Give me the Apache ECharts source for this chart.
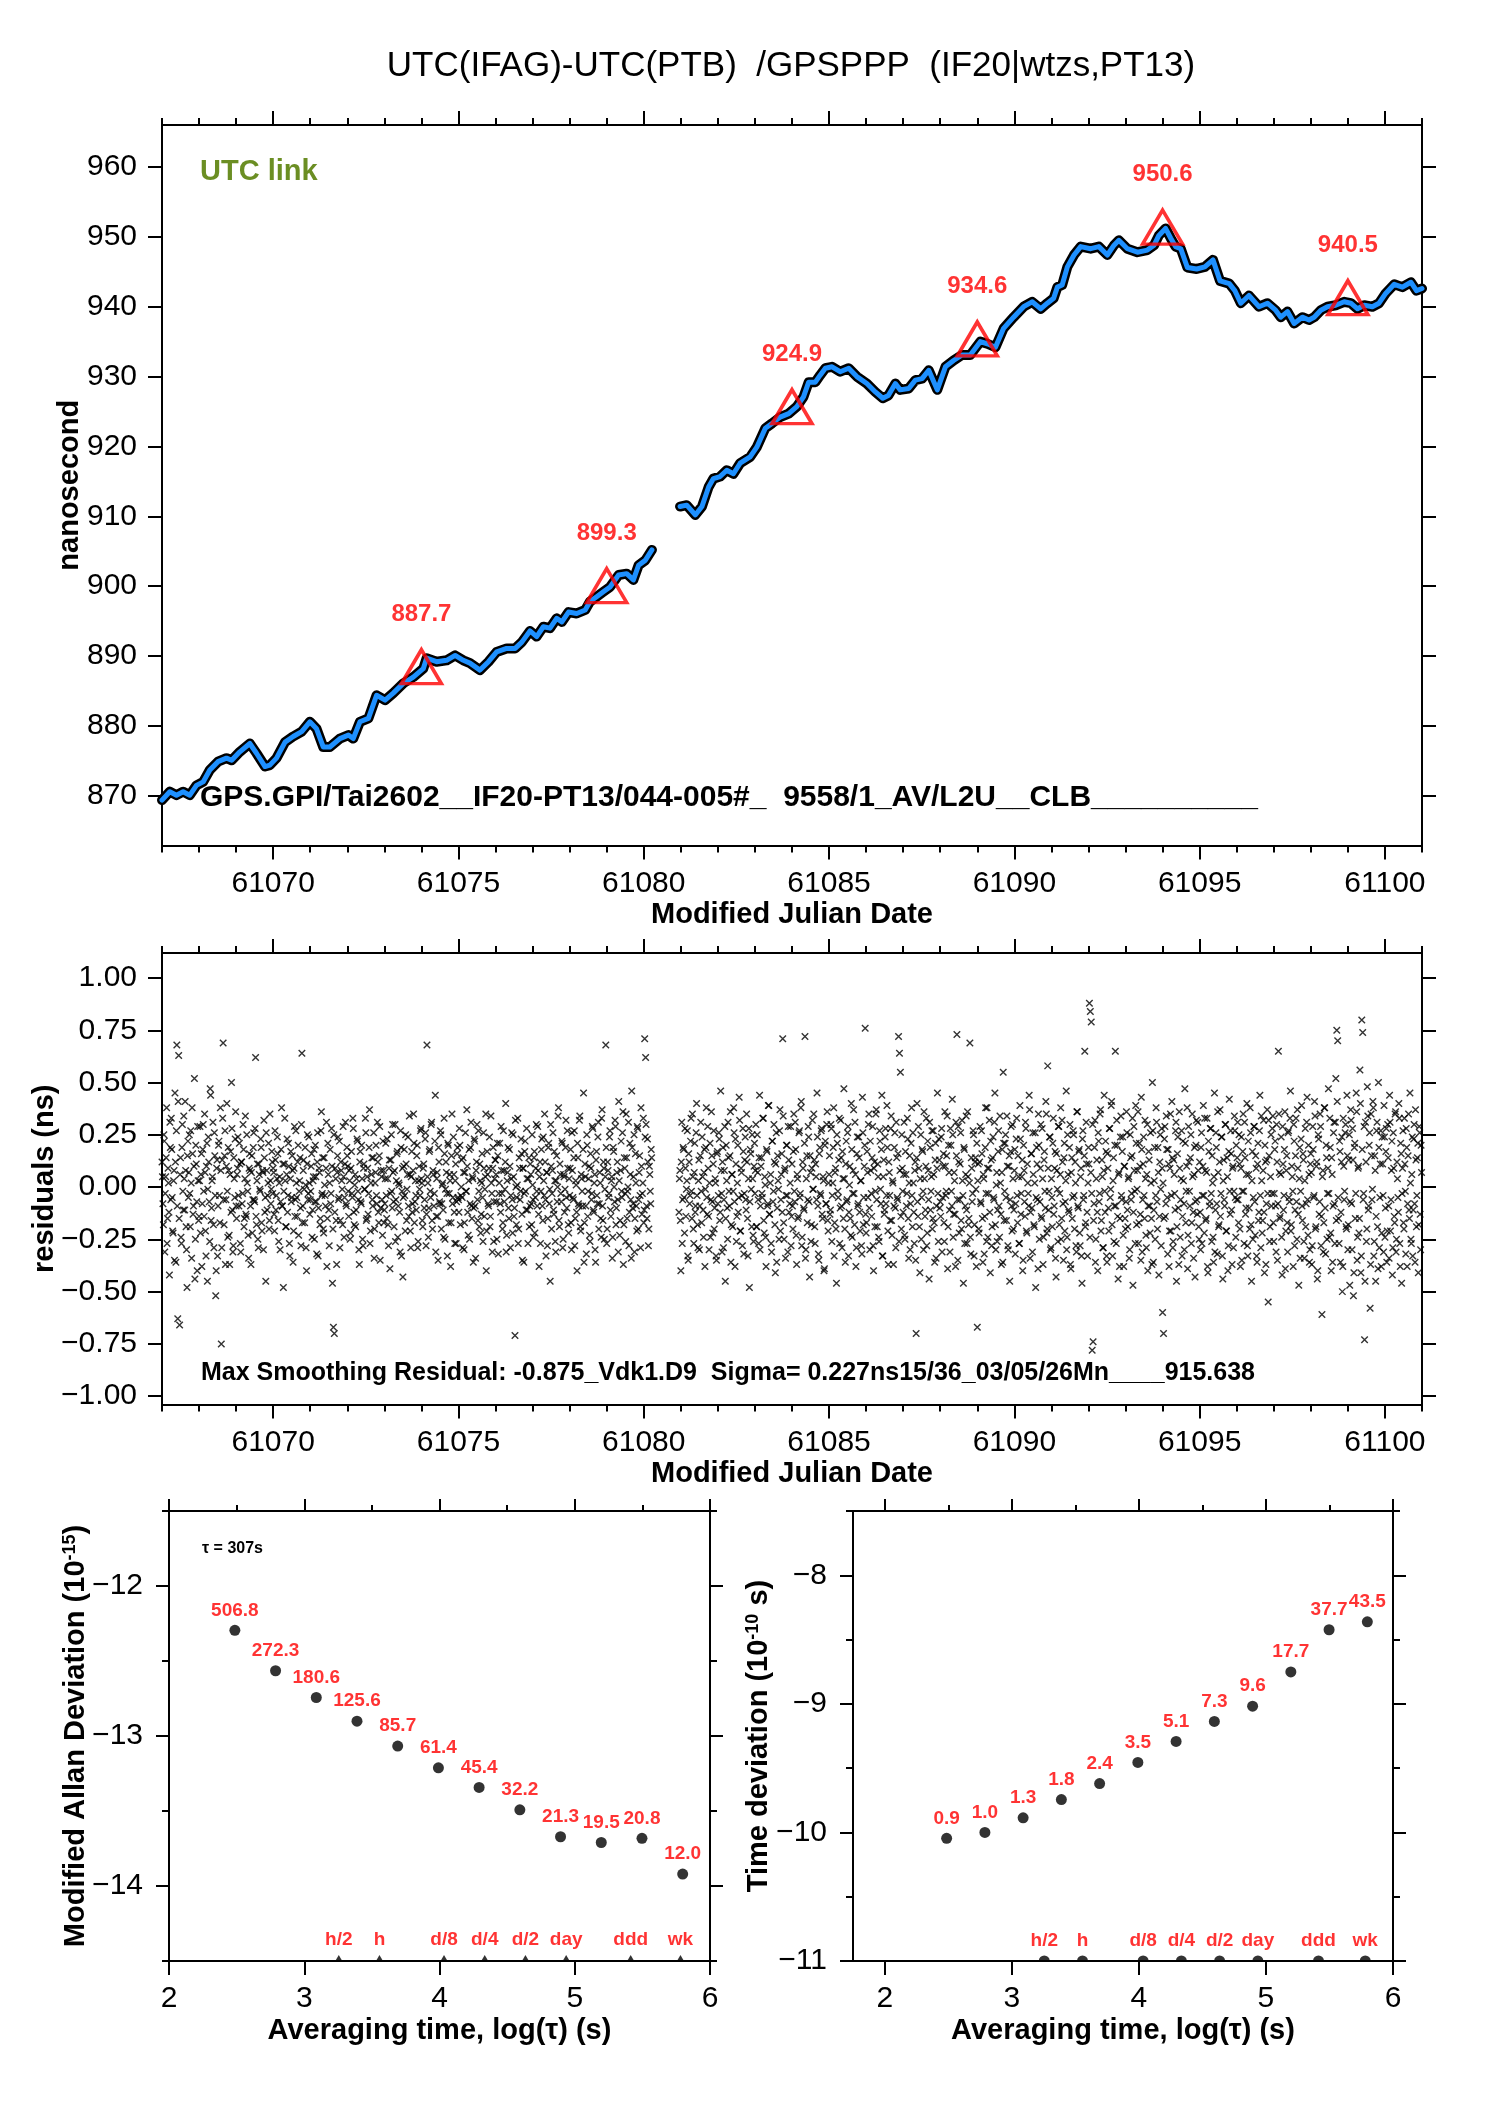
<!DOCTYPE html>
<html>
<head>
<meta charset="utf-8">
<script src="https://cdn.jsdelivr.net/npm/echarts@6/dist/echarts.min.js"></script>
<style>html,body{margin:0;padding:0;background:#fff}#c{width:1488px;height:2105px}</style>
</head>
<body>
<div id="c"></div>
<script>
// ---------------- DATA ----------------
// smoothed UTC link curve (MJD, ns), two segments
const smoothA = [
[61067.00,869.4],[61067.21,870.6],[61067.39,870.1],[61067.57,870.6],[61067.75,870.1],[61067.93,871.5],
[61068.11,872.0],[61068.29,873.7],[61068.51,874.9],[61068.74,875.4],[61068.88,875.1],[61069.10,876.3],
[61069.37,877.5],[61069.55,876.1],[61069.78,874.2],[61069.91,874.4],[61070.09,875.4],[61070.32,877.7],
[61070.54,878.5],[61070.77,879.2],[61070.99,880.6],[61071.17,879.6],[61071.35,877.0],[61071.53,877.0],
[61071.80,878.2],[61072.03,878.7],[61072.16,878.2],[61072.34,880.6],[61072.57,881.1],[61072.79,884.4],
[61073.02,883.7],[61073.24,884.7],[61073.51,886.1],[61073.78,887.0],[61074.05,888.2],[61074.14,889.7],
[61074.41,889.2],[61074.68,889.4],[61074.91,890.1],[61075.13,889.4],[61075.31,889.0],[61075.58,888.0],
[61075.81,889.2],[61076.03,890.6],[61076.30,891.1],[61076.53,891.1],[61076.71,892.0],[61076.93,893.6],
[61077.11,892.8],[61077.29,894.2],[61077.47,894.0],[61077.65,895.4],[61077.79,894.9],[61077.97,896.3],
[61078.19,896.1],[61078.42,896.6],[61078.55,897.8],[61078.73,898.5],[61078.91,899.2],[61079.09,899.9],
[61079.32,901.6],[61079.54,901.8],[61079.72,900.9],[61079.86,903.0],[61080.04,903.7],[61080.22,905.2]
];
const smoothB = [
[61080.98,911.4],[61081.16,911.6],[61081.39,910.2],[61081.57,911.4],[61081.75,914.2],[61081.88,915.4],
[61082.06,915.7],[61082.24,916.6],[61082.42,916.1],[61082.60,917.6],[61082.87,918.5],[61083.05,919.9],
[61083.28,922.6],[61083.46,923.3],[61083.68,924.2],[61083.91,924.7],[61084.13,925.7],[61084.31,927.1],
[61084.45,929.2],[61084.63,929.2],[61084.76,930.2],[61084.90,931.2],[61085.08,931.4],[61085.30,930.7],
[61085.53,931.2],[61085.75,930.0],[61086.02,929.0],[61086.25,927.8],[61086.45,926.9],[61086.60,927.3],
[61086.79,929.0],[61086.92,928.1],[61087.15,928.3],[61087.33,929.5],[61087.51,929.7],[61087.69,930.9],
[61087.92,928.1],[61088.14,931.4],[61088.36,932.3],[61088.59,933.1],[61088.81,933.1],[61089.08,935.0],
[61089.27,934.7],[61089.49,934.2],[61089.71,936.9],[61089.98,938.5],[61090.25,940.0],[61090.48,940.7],
[61090.71,939.7],[61090.89,940.5],[61091.06,941.2],[61091.16,942.8],[61091.29,943.1],[61091.43,945.7],
[61091.61,947.4],[61091.79,948.6],[61092.06,948.3],[61092.28,948.6],[61092.51,947.4],[61092.69,948.8],
[61092.82,949.5],[61093.05,948.3],[61093.32,947.8],[61093.59,948.1],[61093.77,948.8],[61093.90,950.2],
[61094.08,951.2],[61094.22,949.8],[61094.35,948.6],[61094.49,948.3],[61094.67,945.6],[61094.92,945.4],
[61095.14,945.7],[61095.36,946.7],[61095.55,943.7],[61095.80,943.3],[61095.95,942.3],[61096.11,940.5],
[61096.33,941.6],[61096.60,940.0],[61096.83,940.5],[61097.05,939.5],[61097.19,938.5],[61097.37,939.3],
[61097.55,937.6],[61097.77,938.5],[61097.95,938.1],[61098.09,938.5],[61098.27,939.5],[61098.45,940.0],
[61098.67,940.2],[61098.90,940.7],[61099.08,940.5],[61099.26,939.7],[61099.44,940.2],[61099.66,940.0],
[61099.84,940.5],[61100.02,941.9],[61100.25,943.2],[61100.47,942.8],[61100.70,943.5],[61100.85,942.3],
[61101.00,942.6]
];
const peakMjd = [61074, 61079, 61084, 61089, 61094, 61099];
const peakNs  = [887.7, 899.3, 924.9, 934.6, 950.6, 940.5];

// residuals (hundredths of ns), sampled every resStep day from each start
const resStep = 0.025;
const resStartA = 61067.0;
const resA = [
12,-8,25,-31,5,38,-15,2,-42,19,33,-5,-22,8,45,-36,68,-63,63,-66,14,-27,30,-11,4,41,-19,-48,22,7,-3,27,-34,16,-9,52,-25,11,-40,3,
-14,29,6,-38,18,-2,35,-21,10,-45,24,-7,47,-16,3,31,-29,15,-52,9,-33,20,-4,38,-75,13,69,-18,27,-6,40,-24,8,-37,17,50,-11,-28,4,23,
-9,6,24,-9,11,-31,12,-3,18,-15,34,-14,2,-23,9,8,-37,15,-6,26,-7,62,-18,11,-29,6,-2,19,-21,7,32,-12,-45,8,-4,21,-16,3,-1,12,
9,-13,27,-11,4,16,-26,5,-7,38,-9,-48,11,3,-19,23,-4,10,-33,17,-5,8,-21,29,-6,2,-14,20,-2,14,-28,64,-9,13,-17,1,-40,25,-3,2,
-6,10,-24,3,18,-7,5,-32,26,-10,7,-15,36,-3,-20,14,-4,9,-38,21,-11,2,-8,28,-46,-67,-70,9,-16,7,24,-5,-29,12,3,-18,5,-5,31,-9,
15,-2,8,-25,9,-3,33,-12,1,-19,4,22,-6,-37,17,-8,4,-28,11,-1,26,-15,9,-3,37,-21,6,-6,14,-34,2,20,-8,12,-17,29,-10,5,-23,8,
-11,4,-4,23,-18,9,-39,13,-2,30,-7,8,-26,3,17,-9,1,-31,19,-2,-43,10,-4,25,-16,6,-9,34,-21,5,-12,8,21,-7,-4,15,-29,3,-1,27,
4,-16,9,-10,23,-28,68,2,-10,18,-5,31,-20,6,-3,44,-14,7,-35,12,-8,25,-8,2,-24,16,-1,7,-33,20,-3,3,-17,35,-5,6,-27,11,-7,19,
-6,28,-18,0,-5,14,-30,7,-2,37,-12,3,-25,19,-9,5,-36,23,-9,8,30,-16,-2,11,-22,2,-5,26,-14,5,-40,17,-8,9,-19,34,-3,9,-26,4,
13,-7,21,-32,2,-8,29,-3,-17,8,-1,40,-23,7,-10,18,-29,4,-6,25,-14,-71,0,-5,33,-20,9,-2,16,-35,9,-3,22,-11,4,-27,14,-9,6,-18,
1,-24,17,-5,30,-9,8,-38,12,-2,23,-16,3,35,-6,7,-28,19,-8,-45,10,-3,26,-13,3,-31,15,0,38,-19,6,-7,21,-25,5,-1,32,-10,9,-22,
-4,18,-30,8,-6,27,-15,1,-40,14,-9,34,-21,4,-9,45,-17,5,-32,20,-2,10,-26,9,-3,28,-12,6,-36,17,-8,31,-8,2,-24,37,-16,9,-1,68,
-27,12,-5,24,-11,3,-34,19,0,32,-18,7,-6,41,-23,8,-2,26,-37,14,-3,35,-15,0,-28,21,-6,46,-10,5,-31,16,-9,29,-20,7,-4,38,-13,2,
-17,71,62,-9,23,-28,10,-2,18
];
const resStartA2 = 61067.0125;
const resA2 = [
5,-18,22,-3,14,-27,9,-12,31,-6,18,-21,3,-35,12,27,-9,41,-15,6,-24,19,-2,34,-11,8,-30,15,-5,25,-19,2,38,-13,10,-44,20,-7,29,-16,
3,-22,16,-8,30,-14,7,-33,21,-1,12,-26,44,-10,5,-18,26,-4,-40,13,-9,22,-17,8,-29,33,-6,15,-37,10,-2,19,-23,6,-12,28,-31,14,-5,36,
-15,9,-4,21,-27,12,-8,30,-19,4,-13,25,-2,-34,16,-9,7,-22,19,-6,28,-14,3,-25,11,-1,23,-17,8,-30,14,-5,26,-11,2,-20,35,-8,17,-3,
7,-21,13,-4,24,-16,2,-30,18,-9,11,-2,33,-19,6,-12,21,-27,4,-7,15,-36,9,-14,27,-5,12,-23,3,-10,30,-17,8,-1,19,-29,11,-6,24,-13,
-2,16,-11,5,-25,20,-7,12,-33,9,-18,27,-4,14,-22,1,-9,31,-15,6,-28,18,-3,10,-20,25,-12,4,-37,15,-6,22,-16,8,-1,29,-24,11,-8,19,
10,-14,3,-22,17,-5,28,-18,6,-11,23,-2,-30,12,-7,20,-25,9,-1,33,-16,5,-13,19,-27,2,14,-9,26,-20,7,-4,31,-12,15,-35,8,-6,22,-17,
-8,21,-15,4,-28,13,-3,25,-10,7,-19,30,-6,16,-24,2,-12,27,-33,9,-5,18,-21,11,-1,24,-14,6,-29,17,-8,35,-17,3,-11,20,-26,10,-4,28,
2,-19,11,-6,26,-13,5,-24,17,-2,30,-16,8,-9,22,-31,4,-14,19,-7,27,-20,1,-11,33,-25,12,-3,21,-17,6,-38,15,-8,24,-12,3,-27,16,-5,
-12,20,-4,13,-29,7,-17,26,-2,10,-23,18,-8,31,-15,4,-10,22,-34,12,-6,27,-19,3,-13,16,-26,9,-1,35,-21,6,-9,24,-14,2,-31,19,-7,13,
6,-25,15,-3,21,-12,8,-20,27,-7,12,-31,3,19,-15,10,-4,26,-22,5,-10,32,-18,1,-27,14,-6,23,-13,9,-36,17,-2,28,-11,4,-19,11,-8,25,
-6,14,-22,9,-2,29,-13,5,-27,18,-9,24,-4,12,-33,7,-15,21,-1,30,-20,8,-11,17,-26,3,-7,34,-16,11,-3,22,-29,6,-12,19,-5,27,-18,4,
9,-17,26,-5,14,-28,3,-12,21,-8,32,-19,6,-2,18,-36,11,-9,25,-14,4,-23,16,-6,29,-11,2,-30,13,-4,24,-20,7,-15,33,-9,12,-25,5,19,
-20,8,-3,27,-14,5,-24,17,-7,29,-10,12,-31,3,-16,22,-5,36,-18,9,-26,14,-2,31,-12,6,-34,19,-8,25,-15,2,-21,28,-6,15,-29,10,-3,33,
-11,24,30,-15,12,-20,6,-8,14
];
const resStartB = 61080.95;
const resB = [
-12,8,
-40,31,-6,18,-22,9,-1,27,-35,12,-4,33,-15,5,-27,21,-9,40,-18,3,-30,15,-2,24,-11,7,-38,19,-5,29,-14,2,-24,36,-7,11,-20,4,-33,16,
-8,26,-16,46,-3,12,-29,8,-45,20,-10,31,-2,15,-36,6,-19,38,-7,23,-26,2,-12,43,-21,9,-4,28,-32,13,-6,35,-15,4,-48,18,-1,25,-23,10,
-3,30,-19,7,-27,44,-9,14,-5,33,-22,1,-38,17,-8,39,-13,6,-31,22,-2,12,-41,26,-10,3,-25,37,-6,16,71,-17,8,-34,20,-4,29,-12,2,-28,
11,-20,35,-7,18,-37,4,-14,27,-3,41,-24,9,-11,72,-30,15,-6,24,-43,7,-18,32,-1,13,-27,5,45,-9,-35,19,-4,28,-15,3,-39,22,-8,36,-21,
6,-13,30,-26,2,38,-17,9,-46,21,-5,33,-10,14,-29,4,47,-20,11,-7,26,-33,1,-15,40,-24,8,-3,31,-38,16,-9,24,-12,3,-28,43,-18,10,76,
-22,17,-5,35,-30,8,-14,29,-40,12,-2,37,-19,5,-26,22,-8,44,-33,13,-11,28,-4,19,-37,7,-16,34,-23,2,-9,26,-29,14,-6,72,64,55,-20,9,
-12,31,-25,6,-3,23,-34,15,-8,38,-19,2,-27,12,-70,40,-14,9,-41,25,-5,17,-30,4,-11,33,-22,8,-44,19,-2,27,-15,6,-36,21,-9,45,-26,13,
-7,24,-31,10,-17,36,-4,15,-39,20,-11,28,-2,42,-24,7,-13,31,73,-35,12,-6,26,-20,3,-46,18,-9,34,-27,5,-15,69,-32,9,-3,25,-18,14,-38,
-67,11,-22,29,-8,16,-36,4,-14,38,-26,9,-3,32,-41,13,-19,24,-6,45,-30,7,-11,27,-24,2,-37,18,55,-16,21,-5,34,-28,10,-45,17,-9,30,-20,
8,-32,23,-4,15,-27,39,-13,5,-40,20,-7,31,-21,11,-3,44,-34,16,-10,26,-18,2,-48,19,-6,35,-25,9,-14,28,-37,13,-2,41,-22,58,-11,24,-30,
4,-19,33,-9,17,-43,8,-26,29,-3,38,-15,12,-35,21,-7,46,-24,6,-12,30,-39,14,-5,25,-20,2,-31,36,-10,18,-28,9,-46,27,-4,65,-17,11,-33,
19,88,84,79,-78,-74,-8,32,-25,13,-40,22,-3,37,-16,5,-29,44,-12,17,-36,9,-21,28,-1,41,-33,14,-9,65,-27,20,-44,7,-15,34,-6,24,-38,10,
-20,36,-11,4,-34,25,-6,15,-47,29,-2,39,-18,8,-27,21,-13,43,-31,11,-4,32,-23,6,-40,17,-9,26,-15,50,-36,3,-25,38,-7,19,-42,12,-1,28,
-60,-70,23,-14,34,-5,18,-38,9,-21,41,-29,13,-3,27,-45,16,-10,36,-24,4,-33,22,-8,47,-17,10,-39,29,-2,14,-27,35,-12,6,-43,20,-6,31,-19,
12,-30,26,-4,39,-22,8,-15,33,-41,17,-7,28,-26,2,-36,45,-11,19,-32,7,-18,37,-3,24,-44,13,-9,30,-21,5,-28,42,-13,16,-37,10,-2,27,-24,
-6,31,-17,11,-38,24,-2,35,-27,14,-10,40,-33,6,-20,26,-45,17,-5,29,-23,9,-36,21,-12,44,-29,3,-16,32,-41,12,-8,37,-55,15,-19,25,-3,34,
-26,18,-9,30,-35,65,7,-14,24,-42,11,-4,36,-21,15,-31,27,-7,46,-18,5,-38,22,-11,33,-25,9,-47,19,-2,39,-16,13,-34,28,-8,43,-23,6,-30,
16,-37,29,-5,41,-20,10,-44,25,-13,35,-28,-61,8,-17,38,-32,14,-3,47,-24,19,-40,6,-9,31,-27,52,75,70,-15,22,-36,12,-50,33,-6,26,-19,44,
-30,13,-47,37,-8,28,-52,19,-15,45,-35,9,-22,56,-41,80,74,-3,-73,31,-26,48,-11,20,-58,35,-6,41,-33,15,-45,27,-19,50,-29,11,-38,24,-4,39,
-24,17,-36,30,-9,44,-21,8,-42,26,-14,35,-31,12,-5,40,-27,21,-46,9,-17,33,-2,28,-38,15,-11,45,-25,6,-33,23,-8,37,-19,14,-41,29,-13,20
];
const resStartB2 = 61080.9625;
const resB2 = [
4,-16,
12,-27,19,-5,28,-14,3,-33,16,-8,22,-2,35,-20,7,-12,26,-4,-29,13,-9,31,-17,5,-24,18,-1,38,-13,9,-30,21,-6,15,-22,27,-10,2,-35,17,
-4,23,-12,8,-31,19,-6,29,-15,3,-25,14,-9,36,-18,6,-2,26,-38,11,-14,20,-5,32,-21,7,-28,17,-3,24,-11,12,-33,28,-7,16,-19,4,-26,21,
8,-19,25,-6,14,-30,10,-3,33,-16,5,-24,18,-9,39,-13,2,-27,22,-7,30,-18,11,-36,15,-1,27,-21,6,-12,34,-25,9,-4,20,-31,13,-8,29,-14,
-9,17,-2,31,-23,6,-15,26,-5,38,-28,12,-10,21,-34,4,-17,29,-7,15,-26,9,-1,35,-19,11,-6,24,-32,16,-3,27,-13,5,-40,20,-8,30,-16,2,
15,-11,28,-4,19,-33,7,-20,25,-2,13,-27,32,-9,17,-15,4,-36,22,-6,29,-12,10,-23,18,-3,37,-18,6,-29,24,-8,14,-21,3,-32,26,-5,20,-13,
-17,7,30,-10,22,-3,14,-28,9,-19,35,-6,11,-24,27,-1,18,-33,5,-13,24,-8,39,-21,12,-4,28,-16,3,-37,19,-10,31,-5,16,-26,8,-14,25,-2,
6,-23,17,-9,33,-15,2,-30,21,-4,26,-12,8,-35,14,-7,29,-19,4,-25,18,-2,36,-14,10,-28,22,-6,31,-11,5,-20,27,-17,13,-34,9,-3,23,-10,
-14,28,-5,16,-26,10,-2,34,-19,7,-31,20,-9,25,-13,3,-38,15,-6,29,-22,11,-16,32,-4,19,-27,6,-11,36,-18,2,-24,14,-7,27,-33,12,-1,21,
3,-20,12,-7,27,-15,6,-32,19,-3,38,-24,9,-12,22,-28,14,-5,31,-18,1,-26,17,-9,34,-13,7,-36,21,-2,25,-16,10,-30,15,-6,29,-21,4,-11,
18,-8,33,-17,5,-27,23,-3,13,-35,8,-14,28,-22,2,-9,37,-12,16,-31,6,-19,26,-5,11,-39,20,-7,30,-15,4,-24,17,-10,35,-20,9,-2,24,-29,
-5,21,-13,9,-34,16,-1,29,-18,6,-25,32,-8,14,-21,3,-30,25,-11,19,-37,7,-15,27,-4,12,-28,36,-9,17,-22,5,-33,23,-6,15,-19,31,-12,2,
11,-24,7,-3,30,-16,19,-36,4,-12,26,-7,35,-21,13,-29,8,-2,22,-33,16,-10,28,-5,39,-18,3,-26,20,-9,32,-14,6,-38,24,-4,17,-23,10,-15,
-7,26,-19,5,-30,14,-3,33,-12,8,-27,21,-1,36,-17,10,-35,18,-6,24,-15,4,-29,30,-9,13,-22,2,-37,27,-11,19,-4,31,-20,7,-14,25,-28,9,
2,-15,29,-8,18,-32,11,-21,35,-4,14,-26,6,-11,31,-19,24,-37,9,-6,27,-14,3,-30,21,-2,38,-23,12,-9,25,-17,5,-34,19,-7,32,-13,8,-25,
-12,19,-27,10,-4,33,-16,7,-38,22,-9,28,-3,15,-24,5,-31,26,-8,36,-19,12,-14,24,-33,3,-6,30,-21,14,-40,17,-2,27,-11,9,-29,34,-5,20,
14,-6,25,-20,9,-35,17,-2,31,-13,6,-28,22,-10,38,-18,3,-25,29,-7,15,-33,11,-16,27,-4,34,-22,8,-12,20,-37,13,-3,32,-26,5,-9,28,-17,
-3,22,-31,12,-8,35,-15,6,-24,29,-11,18,-39,8,-17,26,-5,33,-21,10,-2,30,-28,15,-7,37,-13,4,-34,23,-9,16,-26,3,-19,31,-6,20,-36,11,
7,-28,18,-4,34,-19,12,-40,23,-7,29,-14,5,-31,38,-10,20,-25,9,-3,33,-22,14,-36,26,-8,31,-16,41,-5,-27,17,-12,24,-38,10,-2,30,-20,15,
-18,25,-7,32,-30,13,-41,21,-3,36,-24,10,-15,40,-33,18,-6,29,-45,12,-20,34,-9,26,-37,15,-1,38,-26,8,-14,31,-39,19,-5,27,-22,11,-31,24,
-10,28,-21,14,-34,31,-6,22,-29,9,-17,36,-25,4,-12,33,-38,16,-3,27,-20,11,-32,19,-8,35,-15,2,-27,24,-11,30,-36,13,-4,21,-18,26,-30,7
];

// stability plots
const logTau = [2.487, 2.788, 3.089, 3.390, 3.691, 3.992, 4.293, 4.594, 4.895, 5.196, 5.497, 5.798];
const mdev = [506.8, 272.3, 180.6, 125.6, 85.7, 61.4, 45.4, 32.2, 21.3, 19.5, 20.8, 12.0];   // 1e-15
const tdev = [0.9, 1.0, 1.3, 1.8, 2.4, 3.5, 5.1, 7.3, 9.6, 17.7, 37.7, 43.5];               // 1e-10 s
const markSec = [1800, 3600, 10800, 21600, 43200, 86400, 259200, 604800];
const markNames = ['h/2', 'h', 'd/8', 'd/4', 'd/2', 'day', 'ddd', 'wk'];

// tick labels
const mjdTicks = [61070, 61075, 61080, 61085, 61090, 61095, 61100];
const nsTicks = [870, 880, 890, 900, 910, 920, 930, 940, 950, 960];
const resTicks = [-1, -0.75, -0.5, -0.25, 0, 0.25, 0.5, 0.75, 1];
const logTicks = [2, 3, 4, 5, 6];
const mdevTicks = [-12, -13, -14];
const tdevTicks = [-8, -9, -10, -11];

// ---------------- CHART ----------------
const FONT = '"Liberation Sans", Arial, Helvetica, sans-serif';
const mjdMinor = []; for (let d = 61067; d <= 61101; d++) mjdMinor.push(d);
const logMinor = [2.5, 3.5, 4.5, 5.5];
const mdevMinor = [-11.5, -12.5, -13.5, -14.5];
const tdevMinor = [-7.5, -8.5, -9.5, -10.5];

const minus = s => s.replace('-', '\u2212');
const fmtInt = v => minus(String(Math.round(v)));
const fmt2 = v => minus(v.toFixed(2));

function ax(grid, pos, min, max, ticks, len, o) {
  o = o || {};
  const a = {
    type: 'value', gridIndex: grid, position: pos, min: min, max: max,
    axisLine: o.line ? {show: true, onZero: false, lineStyle: {color: '#000', width: 2}} : {show: false, onZero: false},
    axisTick: {show: true, inside: false, customValues: ticks, length: len, lineStyle: {color: '#000', width: 2}},
    axisLabel: o.labels ? {show: true, customValues: o.labels, formatter: o.fmt, margin: o.margin,
      fontSize: 30, color: '#000', fontFamily: FONT} : {show: false},
    splitLine: {show: false},
    nameMoveOverlap: false
  };
  if (o.name) {
    a.name = o.name; a.nameLocation = 'middle'; a.nameGap = o.nameGap;
    a.nameTextStyle = Object.assign({fontSize: 29, fontWeight: 'bold', color: '#000', fontFamily: FONT}, o.nameStyle || {});
  }
  return a;
}

const xAxes = [
  // grid 0 (0..3)
  ax(0, 'bottom', 61067, 61101, mjdTicks, 14, {line: true, labels: mjdTicks, fmt: fmtInt, margin: 23, name: 'Modified Julian Date', nameGap: 55}),
  ax(0, 'bottom', 61067, 61101, mjdMinor, 7),
  ax(0, 'top', 61067, 61101, mjdTicks, 14, {line: true}),
  ax(0, 'top', 61067, 61101, mjdMinor, 7),
  // grid 1 (4..7)
  ax(1, 'bottom', 61067, 61101, mjdTicks, 14, {line: true, labels: mjdTicks, fmt: fmtInt, margin: 23, name: 'Modified Julian Date', nameGap: 55}),
  ax(1, 'bottom', 61067, 61101, mjdMinor, 7),
  ax(1, 'top', 61067, 61101, mjdTicks, 14, {line: true}),
  ax(1, 'top', 61067, 61101, mjdMinor, 7),
  // grid 2 (8..10)
  ax(2, 'bottom', 2, 6, logTicks, 14, {line: true, labels: logTicks, fmt: fmtInt, margin: 23, name: 'Averaging time, log(\u03c4) (s)', nameGap: 55}),
  ax(2, 'top', 2, 6, logTicks, 12, {line: true}),
  ax(2, 'top', 2, 6, logMinor, 6),
  // grid 3 (11..13)
  ax(3, 'bottom', 1.75, 6, logTicks, 14, {line: true, labels: logTicks, fmt: fmtInt, margin: 23, name: 'Averaging time, log(\u03c4) (s)', nameGap: 55}),
  ax(3, 'top', 1.75, 6, logTicks, 12, {line: true}),
  ax(3, 'top', 1.75, 6, logMinor, 6)
];

const supRich = {
  a: {fontSize: 29, fontWeight: 'bold', fontFamily: FONT, color: '#000'},
  s: {fontSize: 18, fontWeight: 'bold', fontFamily: FONT, color: '#000', verticalAlign: 'top'}
};
const yAxes = [
  // grid 0 (0,1)
  ax(0, 'left', 862.9, 966, nsTicks, 14, {line: true, labels: nsTicks, fmt: fmtInt, margin: 25, name: 'nanosecond', nameGap: 78}),
  ax(0, 'right', 862.9, 966, nsTicks, 14, {line: true}),
  // grid 1 (2,3)
  ax(1, 'left', -1.04, 1.12, resTicks, 14, {line: true, labels: resTicks, fmt: fmt2, margin: 25, name: 'residuals (ns)', nameGap: 103}),
  ax(1, 'right', -1.04, 1.12, resTicks, 14, {line: true}),
  // grid 2 (4..7)
  ax(2, 'left', -14.5, -11.5, mdevTicks, 13, {line: true, labels: mdevTicks, fmt: fmtInt, margin: 26,
     name: '{a|Modified Allan Deviation (10}{s|-15}{a|)}', nameGap: 79, nameStyle: {rich: supRich}}),
  ax(2, 'left', -14.5, -11.5, mdevMinor, 7),
  ax(2, 'right', -14.5, -11.5, mdevTicks, 13, {line: true}),
  ax(2, 'right', -14.5, -11.5, mdevMinor, 7),
  // grid 3 (8..11)
  ax(3, 'left', -11, -7.5, tdevTicks, 13, {line: true, labels: tdevTicks, fmt: fmtInt, margin: 26,
     name: '{a|Time deviation (10}{s|-10}{a| s)}', nameGap: 80, nameStyle: {rich: supRich}}),
  ax(3, 'left', -11, -7.5, tdevMinor, 7),
  ax(3, 'right', -11, -7.5, tdevTicks, 13, {line: true}),
  ax(3, 'right', -11, -7.5, tdevMinor, 7)
];

const resid = [];
const addRes = (arr, start) => arr.forEach((v, i) => resid.push([start + i * resStep, v / 100]));
addRes(resA, resStartA);
addRes(resA2, resStartA2);
addRes(resB, resStartB);
addRes(resB2, resStartB2);

const lineS = (data, color, width, z) => ({
  type: 'line', xAxisIndex: 0, yAxisIndex: 0, data: data, symbol: 'none', showSymbol: false,
  lineStyle: {color: color, width: width, join: 'round', cap: 'round'}, silent: true, z: z
});

const redLabel = (size) => ({color: '#ff0000', fontWeight: 'bold', fontSize: size, fontFamily: FONT});

const option = {
  animation: false,
  backgroundColor: '#ffffff',
  textStyle: {fontFamily: FONT},
  grid: [
    {left: 162, top: 125, width: 1260, height: 720.5},
    {left: 162, top: 953, width: 1260, height: 451.5},
    {left: 169, top: 1511, width: 541, height: 450},
    {left: 853, top: 1511, width: 540, height: 450}
  ],
  xAxis: xAxes,
  yAxis: yAxes,
  series: [
    lineS(smoothA, '#000000', 10, 2),
    lineS(smoothB, '#000000', 10, 2),
    lineS(smoothA, '#1e90ff', 5, 3),
    lineS(smoothB, '#1e90ff', 5, 3),
    {
      type: 'scatter', xAxisIndex: 0, yAxisIndex: 0, z: 4,
      data: peakMjd.map((m, i) => [m, peakNs[i]]),
      symbol: 'triangle', symbolSize: [40, 34], symbolOffset: [0, -5.5],
      itemStyle: {color: 'rgba(0,0,0,0)', borderColor: '#ff0000', borderWidth: 3.5},
      label: Object.assign({show: true, position: 'top', distance: 22, formatter: p => peakNs[p.dataIndex].toFixed(1)}, redLabel(24))
    },
    {
      type: 'scatter', xAxisIndex: 4, yAxisIndex: 2, z: 3,
      data: resid, symbol: 'path://M0,0L6,6M6,0L0,6', symbolSize: 6.5,
      itemStyle: {color: 'rgba(0,0,0,0)', borderColor: '#000', borderWidth: 1.4}
    },
    {
      type: 'scatter', xAxisIndex: 8, yAxisIndex: 4, z: 4,
      data: logTau.map((x, i) => [x, Math.log10(mdev[i]) - 15]),
      symbol: 'circle', symbolSize: 11, itemStyle: {color: '#000'},
      label: Object.assign({show: true, position: 'top', distance: 5, formatter: p => mdev[p.dataIndex].toFixed(1)}, redLabel(19))
    },
    {
      type: 'scatter', xAxisIndex: 8, yAxisIndex: 4, z: 4,
      data: markSec.map(s => [Math.log10(s), -14.5]),
      symbol: 'triangle', symbolSize: [7, 6], symbolOffset: [0, -3], itemStyle: {color: '#000'},
      label: Object.assign({show: true, position: 'top', distance: 6, formatter: p => markNames[p.dataIndex]}, redLabel(19))
    },
    {
      type: 'scatter', xAxisIndex: 11, yAxisIndex: 8, z: 4,
      data: logTau.map((x, i) => [x, Math.log10(tdev[i]) - 10]),
      symbol: 'circle', symbolSize: 11, itemStyle: {color: '#000'},
      label: Object.assign({show: true, position: 'top', distance: 5, formatter: p => tdev[p.dataIndex].toFixed(1)}, redLabel(19))
    },
    {
      type: 'scatter', xAxisIndex: 11, yAxisIndex: 8, z: 4,
      data: markSec.map(s => [Math.log10(s), -11]),
      symbol: 'path://M0,10A10,10 0 0 1 20,10Z', symbolSize: [11, 5.5], symbolOffset: [0, -2.75], itemStyle: {color: '#000'},
      label: Object.assign({show: true, position: 'top', distance: 5, formatter: p => markNames[p.dataIndex]}, redLabel(19))
    }
  ],
  graphic: {
    elements: [
      {type: 'text', x: 791, y: 66, style: {text: 'UTC(IFAG)-UTC(PTB)  /GPSPPP  (IF20|wtzs,PT13)', fontSize: 35, fontFamily: FONT, fill: '#000', align: 'center', verticalAlign: 'middle'}},
      {type: 'text', x: 200, y: 172, style: {text: 'UTC link', fontSize: 29, fontWeight: 'bold', fontFamily: FONT, fill: '#6b8e23', align: 'left', verticalAlign: 'middle'}},
      {type: 'text', x: 200, y: 798, style: {text: 'GPS.GPI/Tai2602__IF20-PT13/044-005#_  9558/1_AV/L2U__CLB__________', fontSize: 30, fontWeight: 'bold', fontFamily: FONT, fill: '#000', align: 'left', verticalAlign: 'middle'}},
      {type: 'text', x: 201, y: 1373, style: {text: 'Max Smoothing Residual: -0.875_Vdk1.D9  Sigma= 0.227ns15/36_03/05/26Mn____915.638', fontSize: 25, fontWeight: 'bold', fontFamily: FONT, fill: '#000', align: 'left', verticalAlign: 'middle'}},
      {type: 'text', x: 202, y: 1549, style: {text: '\u03c4 = 307s', fontSize: 16, fontWeight: 'bold', fontFamily: FONT, fill: '#000', align: 'left', verticalAlign: 'middle'}}
    ]
  }
};

const chart = echarts.init(document.getElementById('c'), null, {renderer: 'canvas', width: 1488, height: 2105});
chart.setOption(option);
</script>
</body>
</html>
